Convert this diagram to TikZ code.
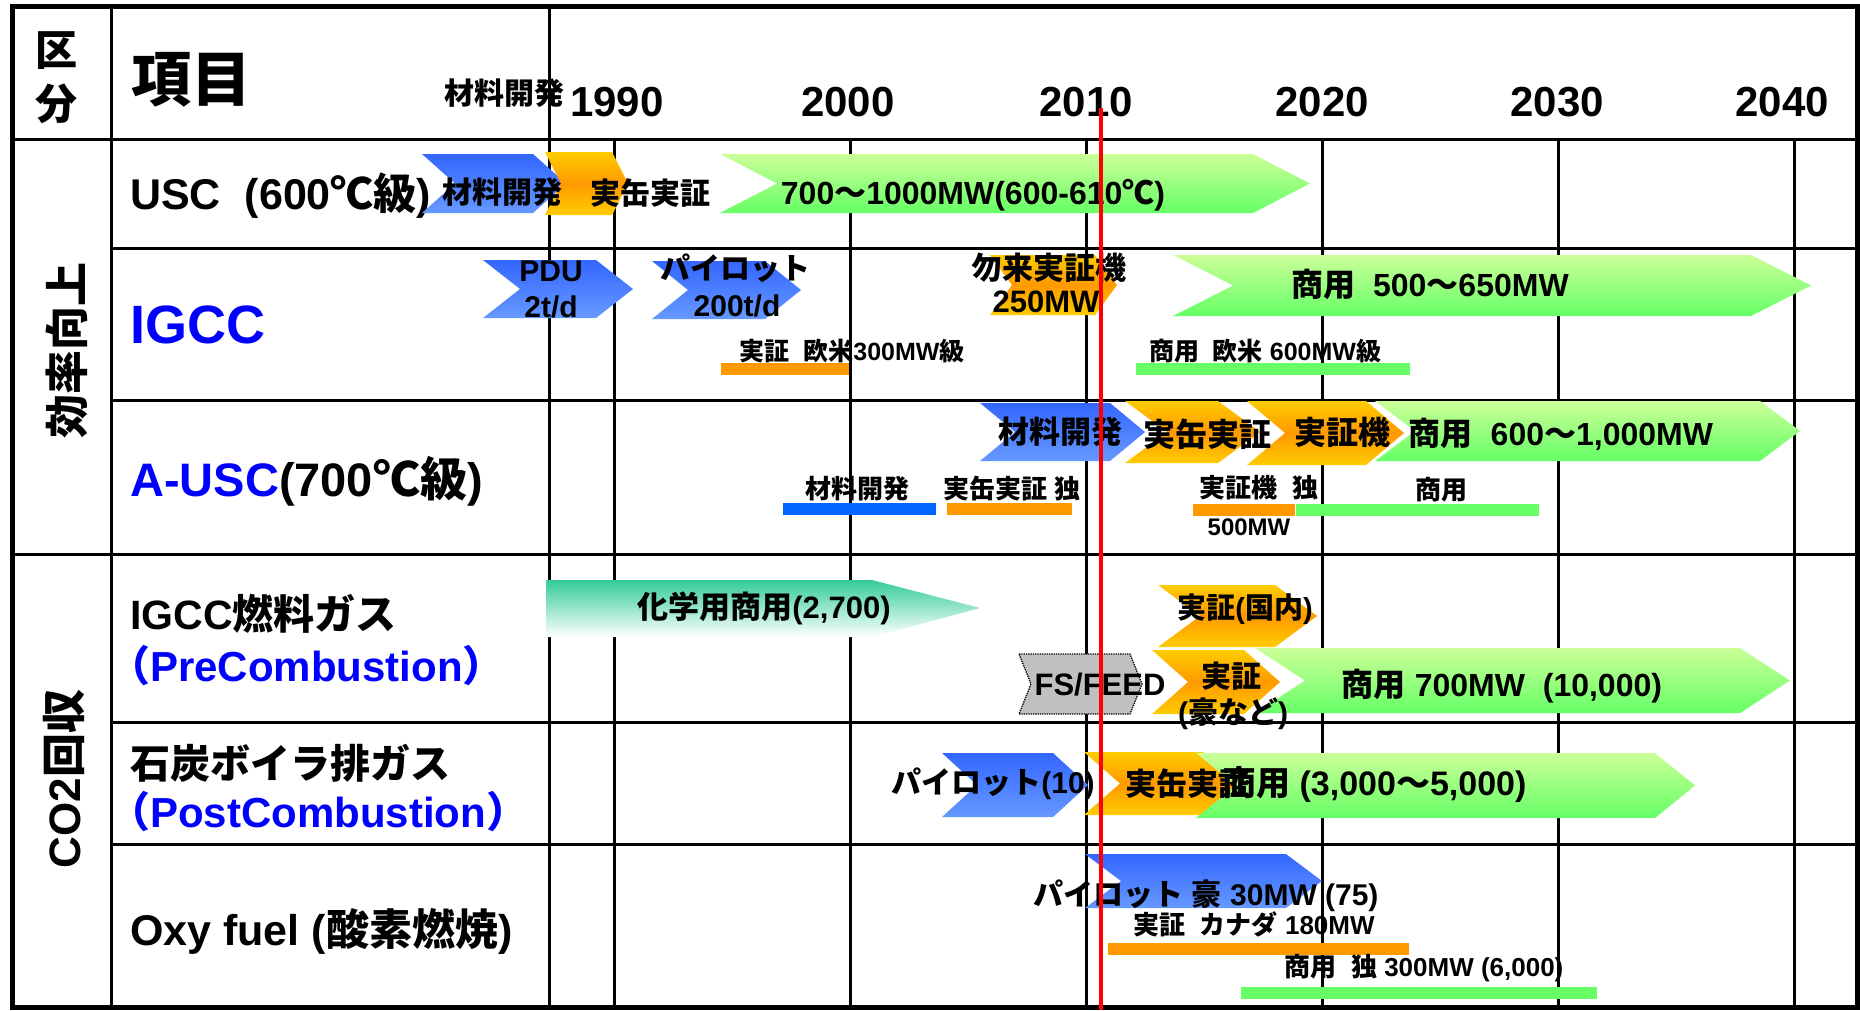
\documentclass[tikz,border=0pt]{standalone}
\usepackage{fontspec}
\setmainfont{Liberation Sans}
\newfontfamily\latf{Liberation Sans}
\newfontfamily\jpf{Noto Sans CJK JP}
\XeTeXinterchartokenstate=1
\newXeTeXintercharclass\cjkcls
\makeatletter
\count@="3000
\loop\XeTeXcharclass\count@=\cjkcls\advance\count@ 1 \ifnum\count@<"3100 \repeat
\count@="4E00
\loop\XeTeXcharclass\count@=\cjkcls\advance\count@ 1 \ifnum\count@<"A000 \repeat
\count@="FF00
\loop\XeTeXcharclass\count@=\cjkcls\advance\count@ 1 \ifnum\count@<"FFF0 \repeat
\makeatother
\XeTeXcharclass"2103=\cjkcls
\XeTeXinterchartoks 0 \cjkcls={\jpf}
\XeTeXinterchartoks 4095 \cjkcls={\jpf}
\XeTeXinterchartoks \cjkcls 0={\latf}
\XeTeXinterchartoks \cjkcls 4095={\latf}
\newcommand\myfz[1]{\fontsize{#1}{#1}\selectfont}
\definecolor{bTop}{RGB}{51,102,255}
\definecolor{bBot}{RGB}{102,153,255}
\definecolor{oEdge}{RGB}{255,204,0}
\definecolor{oMid}{RGB}{255,153,0}
\definecolor{gTop}{RGB}{204,255,153}
\definecolor{gBot}{RGB}{102,255,102}
\definecolor{tTop}{RGB}{51,204,153}
\definecolor{barB}{RGB}{0,102,255}
\definecolor{barO}{RGB}{255,153,0}
\definecolor{barG}{RGB}{102,255,102}
\definecolor{fsG}{RGB}{192,192,192}
\definecolor{lblue}{RGB}{0,0,255}
\tikzset{
 bluech/.style={top color=bTop,bottom color=bBot},
 orch/.style={top color=oEdge,bottom color=oEdge,middle color=oMid},
 grch/.style={top color=gTop,bottom color=gBot},
 tealch/.style={top color=tTop,bottom color=white},
 graych/.style={fill=fsG,draw=black,densely dotted,line width=1.3},
 tx/.style={font=\bfseries\myfz{#1},inner sep=0pt},
 lbl/.style={font=\bfseries\myfz{#1},inner sep=0pt,anchor=west},
 frame/.style={line width=5pt},
 rule/.style={line width=3pt},
 decade/.style={line width=2.5pt},
}
\newcommand\chev[6]{\path[#1] (#2,#5) -- (#3,#5) -- ({#3+#4},{(#5+#6)/2}) -- (#3,#6) -- (#2,#6) -- ({#2+#4},{(#5+#6)/2}) -- cycle;}
\begin{document}
\begin{tikzpicture}[x=1pt,y=-1pt]
\useasboundingbox (0,0) rectangle (1860,1010);
\fill[white] (0,0) rectangle (1860,1010);
% grid
\foreach \xx in {614.5,850.5,1086.5,1322.5,1558.5,1794.5} \draw[decade] (\xx,139) -- (\xx,1007);
\draw[rule] (111,6) -- (111,1007);
\draw[rule] (549,6) -- (549,1007);
\draw[rule] (12,139) -- (1857,139);
\draw[rule] (12,554) -- (1857,554);
\foreach \yy in {248,400,722,844} \draw[rule] (111,\yy) -- (1857,\yy);
\draw[frame] (12,6) rectangle (1857,1007);
% header
\node[tx=42] (h1) at (56,51) {区};
\node[tx=42] (h2) at (56,104) {分};
\node[tx=60] (h3) at (191,80) {項目};
\node[tx=30] (h4) at (504,93) {材料開発};
\node[tx=42] (y1) at (617,102) {1990};
\node[tx=42] (y2) at (848,102) {2000};
\node[tx=42] (y3) at (1086,102) {2010};
\node[tx=42] (y4) at (1322,102) {2020};
\node[tx=42] (y5) at (1557,102) {2030};
\node[tx=42] (y6) at (1782,102) {2040};
% group labels
\node[tx=44,rotate=90] (g1) at (67,350) {効率向上};
\node[tx=44,rotate=90] (g2) at (64,779) {CO2回収};
% row labels
\node[lbl=43] (r1) at (130,196) {USC\ \ (600℃級)};
\node[lbl=54,text=lblue] (r2) at (130,325) {IGCC};
\node[lbl=47] (r3) at (130,481) {\textcolor{lblue}{A-USC}(700℃級)};
\node[lbl=41] (r4a) at (130,614) {IGCC燃料ガス};
\node[lbl=42,text=lblue] (r4b) at (108,666) {（PreCombustion）};
\node[lbl=40] (r5a) at (130,763) {石炭ボイラ排ガス};
\node[lbl=42,text=lblue] (r5b) at (108,812) {（PostCombustion）};
\node[lbl=43] (r6) at (130,931) {Oxy fuel (酸素燃焼)};
% USC row
\chev{bluech}{422}{533}{33}{154}{213}
\chev{orch}{545}{612}{16}{152}{215}
\chev{grch}{720}{1253}{57}{154}{213}
\node[tx=30] (u1) at (502,192) {材料開発};
\node[tx=30] (u2) at (650,193) {実缶実証};
\node[tx=32] (u3) at (973,195) {700～1000MW(600-610℃)};
% IGCC row
\chev{bluech}{483}{596}{37}{260}{318}
\chev{bluech}{652}{765}{36}{261}{319}
\chev{orch}{990}{1095}{22}{255}{315}
\chev{grch}{1173}{1751}{60}{255}{316}
\node[tx=30] (i1) at (551,271) {PDU};
\node[tx=30] (i2) at (551,307) {2t/d};
\node[tx=30] (i3) at (735,268) {パイロット};
\node[tx=30] (i4) at (737,306) {200t/d};
\node[tx=31] (i5) at (1049,268) {勿来実証機};
\node[tx=31] (i6) at (1046,302) {250MW};
\node[tx=32] (i7) at (1430,284) {商用\ \ 500～650MW};
\fill[barO] (721,363) rectangle (849,375);
\fill[barG] (1136,363) rectangle (1410,375);
\node[tx=25] (i8) at (852,351) {実証\ \ 欧米300MW級};
\node[tx=25] (i9) at (1265,351) {商用\ \ 欧米 600MW級};
% A-USC row
\chev{grch}{1375}{1760}{40}{401}{461}
\chev{bluech}{980}{1110}{35}{403}{461}
\chev{orch}{1125}{1218}{42}{401}{463}
\chev{orch}{1247}{1366}{38}{401}{465}
\node[tx=32] (a1) at (1561,434) {商用\ \ 600～1,000MW};
\node[tx=31] (a2) at (1060,432) {材料開発};
\node[tx=32] (a3) at (1207,434) {実缶実証};
\node[tx=32] (a4) at (1342,432) {実証機};
\fill[barB] (783,503) rectangle (936,515);
\fill[barO] (947,503) rectangle (1072,515);
\fill[barO] (1193,504) rectangle (1295,516);
\fill[barG] (1296,504) rectangle (1539,516);
\node[tx=26] (a5) at (857,489) {材料開発};
\node[tx=26] (a6) at (1012,489) {実缶実証\ 独};
\node[tx=26] (a7) at (1259,488) {実証機\ \ 独};
\node[tx=24] (a8) at (1249,527) {500MW};
\node[tx=26] (a9) at (1441,490) {商用};
% IGCC fuel gas row
\path[tealch] (546,580) -- (872,580) -- (980,608) -- (872,637) -- (546,637) -- cycle;
\chev{orch}{1158}{1275}{42}{585}{647}
\chev{graych}{1019}{1130}{12}{654}{714}
\chev{grch}{1255}{1740}{50}{648}{713}
\chev{orch}{1152}{1244}{36}{650}{714}
\node[tx=31] (p1) at (764,608) {化学用商用(2,700)};
\node[tx=29] (p2) at (1245,609) {実証(国内)};
\node[tx=31] (p3) at (1100,685) {FS/FEED};
\node[tx=30] (p4) at (1231,676) {実証};
\node[tx=30] (p5) at (1233,714) {(豪など)};
\node[tx=32] (p6) at (1502,686) {商用 700MW\ \ (10,000)};
% coal boiler row
\chev{bluech}{942}{1053}{35}{753}{817}
\chev{orch}{1084}{1203}{36}{752}{815}
\chev{grch}{1196}{1655}{40}{753}{818}
\node[tx=30] (c1) at (993,784) {パイロット(10)};
\node[tx=31] (c2) at (1187,784) {実缶実証};
\node[lbl=34] (c3) at (1222,784) {商用 (3,000～5,000)};
% oxy fuel row
\chev{bluech}{1085}{1286}{36}{854}{908}
\node[tx=30] (o1) at (1206,896) {パイロット\ 豪\ 30MW\ (75)};
\fill[barO] (1108,943) rectangle (1409,955);
\fill[barG] (1241,987) rectangle (1597,999);
\node[tx=26] (o2) at (1254,924) {実証\ \ カナダ\ 180MW};
\node[tx=26] (o3) at (1424,968) {商用\ \ 独\ 300MW\ (6,000)};
% current year
\coordinate (nowtop) at (1101,108);
\coordinate (nowbot) at (1101,1010);
\draw[red,line width=4.5pt] (nowtop) -- (nowbot);
\end{tikzpicture}
\end{document}
